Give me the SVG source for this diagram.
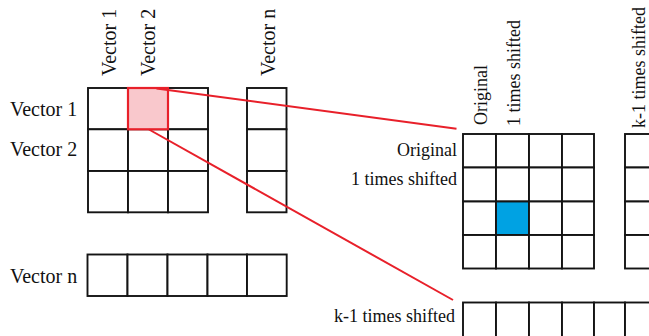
<svg xmlns="http://www.w3.org/2000/svg" width="649" height="336" viewBox="0 0 649 336">
  <style>
    .cell { fill: #ffffff; stroke: #141414; stroke-width: 1.9; }
    .lbl { font-family: "Liberation Serif", "Times New Roman", serif; fill: #111111; }
    .big { font-size: 20px; }
    .small { font-size: 18px; }
    .end { text-anchor: end; }
    .link { stroke: #e8202a; stroke-width: 2; fill: none; }
  </style>

  <!-- Column headers of the vector matrix -->
  <g id="col-labels" class="lbl big">
    <text transform="translate(115.5,76) rotate(-90)">Vector 1</text>
    <text transform="translate(154.5,76) rotate(-90)">Vector 2</text>
    <text transform="translate(275,76) rotate(-90)">Vector n</text>
  </g>

  <!-- Row headers of the vector matrix -->
  <g id="row-labels" class="lbl big">
    <text x="10" y="116">Vector 1</text>
    <text x="10" y="156">Vector 2</text>
    <text x="10" y="283">Vector n</text>
  </g>

  <!-- 3x3 block of the vector matrix -->
  <g id="vector-matrix">
    <rect class="cell" x="88" y="88" width="40" height="41.3"/>
    <rect class="cell" x="128" y="88" width="40" height="41.3"/>
    <rect class="cell" x="168" y="88" width="40" height="41.3"/>
    <rect class="cell" x="88" y="129.3" width="40" height="41.7"/>
    <rect class="cell" x="128" y="129.3" width="40" height="41.7"/>
    <rect class="cell" x="168" y="129.3" width="40" height="41.7"/>
    <rect class="cell" x="88" y="171" width="40" height="41.3"/>
    <rect class="cell" x="128" y="171" width="40" height="41.3"/>
    <rect class="cell" x="168" y="171" width="40" height="41.3"/>
  </g>

  <!-- Column for vector n -->
  <g id="vector-n-column">
    <rect class="cell" x="247" y="88" width="39.5" height="41.3"/>
    <rect class="cell" x="247" y="129.3" width="39.5" height="41.7"/>
    <rect class="cell" x="247" y="171" width="39.5" height="41.3"/>
  </g>

  <!-- Row for vector n -->
  <g id="vector-n-row">
    <rect class="cell" x="87.5" y="254.5" width="40" height="41.5"/>
    <rect class="cell" x="127.5" y="254.5" width="40" height="41.5"/>
    <rect class="cell" x="167.5" y="254.5" width="40" height="41.5"/>
    <rect class="cell" x="207.5" y="254.5" width="39.5" height="41.5"/>
    <rect class="cell" x="247" y="254.5" width="39.7" height="41.5"/>
  </g>

  <!-- Selected element -->
  <g id="selected-cell">
    <rect x="128" y="88" width="40" height="41.3" fill="#f9c8cc" stroke="#e8202a" stroke-width="2.2"/>
  </g>

  <!-- Shift matrix headers -->
  <g id="shift-col-labels" class="lbl small">
    <text transform="translate(486.5,125) rotate(-90)">Original</text>
    <text transform="translate(520,126) rotate(-90)">1 times shifted</text>
    <text transform="translate(645,128) rotate(-90)">k-1 times shifted</text>
  </g>
  <g id="shift-row-labels" class="lbl small end">
    <text x="457" y="156">Original</text>
    <text x="457" y="185">1 times shifted</text>
    <text x="455" y="322">k-1 times shifted</text>
  </g>

  <!-- 4x4 block of the shift matrix -->
  <g id="shift-matrix">
    <rect class="cell" x="463" y="134" width="33" height="33.5"/>
    <rect class="cell" x="496" y="134" width="33" height="33.5"/>
    <rect class="cell" x="529" y="134" width="33" height="33.5"/>
    <rect class="cell" x="562" y="134" width="32" height="33.5"/>
    <rect class="cell" x="463" y="167.5" width="33" height="34"/>
    <rect class="cell" x="496" y="167.5" width="33" height="34"/>
    <rect class="cell" x="529" y="167.5" width="33" height="34"/>
    <rect class="cell" x="562" y="167.5" width="32" height="34"/>
    <rect class="cell" x="463" y="201.5" width="33" height="33.5"/>
    <rect x="496" y="201.5" width="33" height="33.5" fill="#00a2e3" stroke="#141414" stroke-width="1.9"/>
    <rect class="cell" x="529" y="201.5" width="33" height="33.5"/>
    <rect class="cell" x="562" y="201.5" width="32" height="33.5"/>
    <rect class="cell" x="463" y="235" width="33" height="33.5"/>
    <rect class="cell" x="496" y="235" width="33" height="33.5"/>
    <rect class="cell" x="529" y="235" width="33" height="33.5"/>
    <rect class="cell" x="562" y="235" width="32" height="33.5"/>
  </g>

  <!-- Last shift column, running past the edge -->
  <g id="shift-last-column">
    <rect class="cell" x="625" y="134" width="40" height="33.5"/>
    <rect class="cell" x="625" y="167.5" width="40" height="34"/>
    <rect class="cell" x="625" y="201.5" width="40" height="33.5"/>
    <rect class="cell" x="625" y="235" width="40" height="33.5"/>
  </g>

  <!-- Last shift row, running past the edge -->
  <g id="shift-last-row">
    <rect class="cell" x="463" y="302.5" width="33" height="40"/>
    <rect class="cell" x="496" y="302.5" width="33" height="40"/>
    <rect class="cell" x="529" y="302.5" width="33" height="40"/>
    <rect class="cell" x="562" y="302.5" width="32" height="40"/>
    <rect class="cell" x="594" y="302.5" width="31" height="40"/>
    <rect class="cell" x="625" y="302.5" width="33" height="40"/>
  </g>

  <!-- Zoom connectors -->
  <g id="connectors">
    <line class="link" x1="156.5" y1="88.5" x2="456.5" y2="128.7"/>
    <line class="link" x1="149" y1="129.5" x2="453" y2="300"/>
  </g>
</svg>
